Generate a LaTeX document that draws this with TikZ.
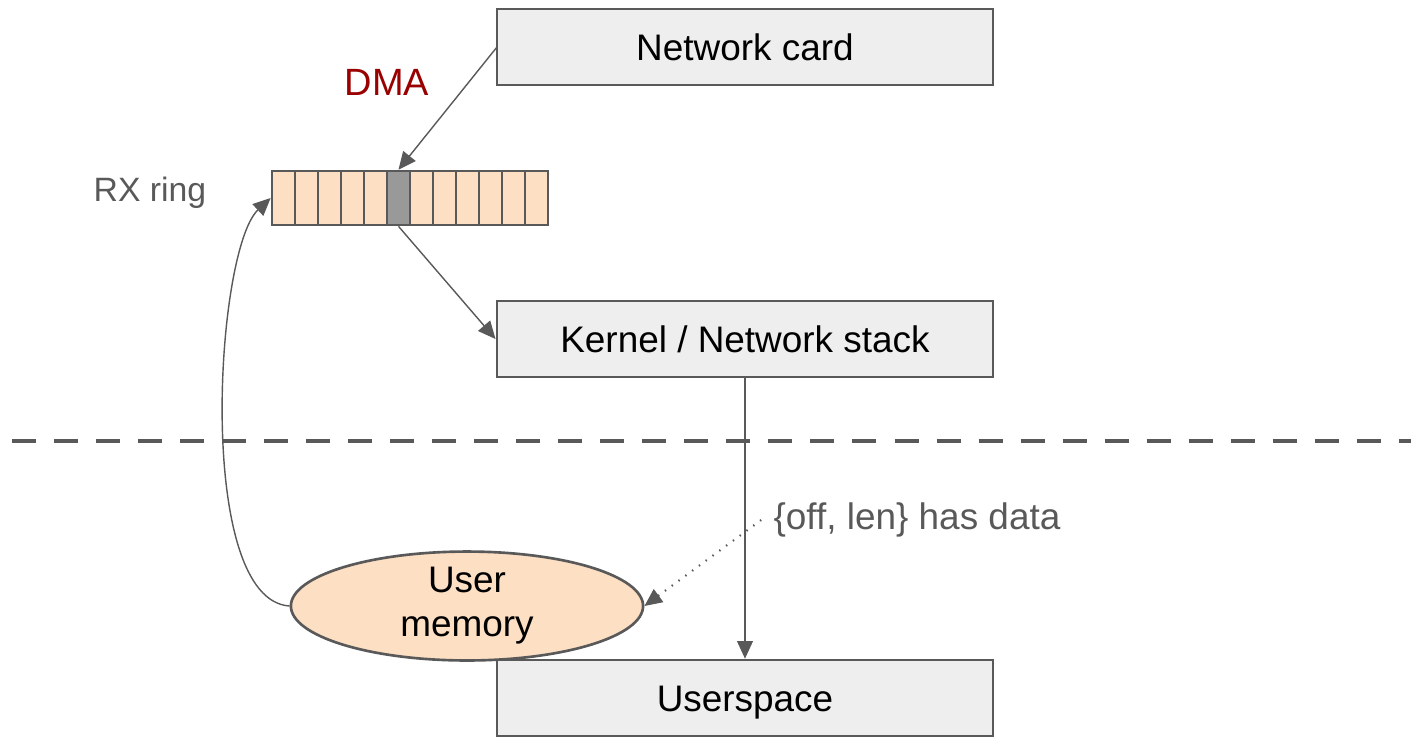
\documentclass[tikz,border=0pt]{standalone}
\usepackage{fontspec}
\setmainfont{Liberation Sans}
\usetikzlibrary{arrows.meta,shapes.geometric}
\definecolor{linegray}{HTML}{595959}
\definecolor{boxgray}{HTML}{EEEEEE}
\definecolor{peach}{HTML}{FDDFC4}
\definecolor{slotgray}{HTML}{999999}
\definecolor{dmared}{HTML}{990000}
\tikzset{
  layer/.style={draw=linegray,fill=boxgray,line width=0.75pt,minimum width=4.96cm,minimum height=0.76cm,inner sep=0pt,text height=7.5pt,text depth=0pt,font=\fontsize{10.5}{12}\selectfont},
  slot/.style={draw=linegray,fill=peach,line width=0.75pt,minimum width=0.23cm,minimum height=0.54cm,inner sep=0pt},
  flow/.style={draw=linegray,line width=0.4pt,-{Triangle[length=5pt,width=4.5pt]}},
  note/.style={text=linegray,font=\fontsize{10.5}{12}\selectfont}
}
\begin{document}
\begin{tikzpicture}[x=0.01cm,y=-0.01cm]
        \useasboundingbox (0,0) rectangle (1411,738);
        % boxes
        \node[layer] (card) at (745,47) {Network card};
        \node[layer] (kernel) at (745,339) {Kernel / Network stack};
        \node[layer] (user) at (745,698) {Userspace};
        % rx ring
        \foreach \i in {1,...,12}
            \node[slot] (slot\i) at (260.5+23*\i,198) {};
        \node[slot,fill=slotgray] at (slot6) {};
        \node[note,font=\fontsize{9.6}{12}\selectfont] (rxlabel) at (150,193) {RX ring};
        \node[text=dmared,font=\fontsize{10.8}{12}\selectfont] (dma) at (387,82) {DMA};
        % user memory
        \node[ellipse,draw=linegray,fill=peach,line width=0.75pt,minimum width=3.52cm,minimum height=1.0cm,inner sep=0pt,align=center,font=\fontsize{10.5}{12.5}\selectfont] (mem) at (467,606) {User\\memory};
        \node[note] (hasdata) at (917,520) {\{off, len\} has data};
        % separator
        \draw[linegray,line width=1.15pt,dash pattern=on 0.24cm off 0.18cm] (12,441) -- (1411,441);
        % connectors
        \coordinate (cardw) at (497,47);
        \draw[flow] (cardw) -- (slot6.north);
        \draw[flow] (slot6.south) -- (kernel.west);
        \draw[flow] (kernel.south) -- (user.north);
        \draw[flow,dotted,line width=0.6pt] (hasdata.west) -- (mem.east);
        \draw[flow] (mem.west) .. controls (195,600) and (215,250) .. (slot1.west);
\end{tikzpicture}
\end{document}
